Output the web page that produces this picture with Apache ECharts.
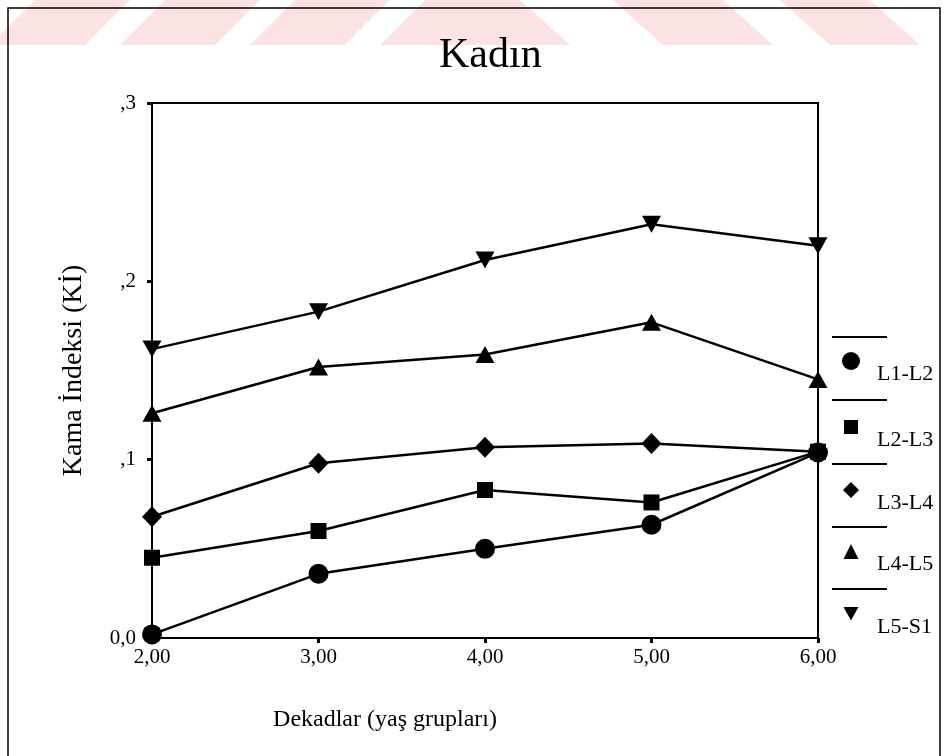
<!DOCTYPE html>
<html>
<head>
<meta charset="utf-8">
<script src="https://cdn.jsdelivr.net/npm/echarts@6/dist/echarts.min.js"></script>
<style>
html,body{margin:0;padding:0;background:#fff;}
#chart{width:947px;height:756px;}
</style>
</head>
<body>
<div id="chart"></div>
<script>
// ---- data ----
const decades = [2, 3, 4, 5, 6];
const seriesNames = ['L1-L2', 'L2-L3', 'L3-L4', 'L4-L5', 'L5-S1'];
const L1_L2 = [0.002, 0.036, 0.050, 0.0635, 0.104];
const L2_L3 = [0.045, 0.060, 0.083, 0.076, 0.1045];
const L3_L4 = [0.068, 0.098, 0.107, 0.109, 0.1045];
const L4_L5 = [0.126, 0.152, 0.159, 0.177, 0.145];
const L5_S1 = [0.162, 0.183, 0.212, 0.232, 0.220];
const yTicks = [0, 0.1, 0.2, 0.3];

const FONT = '"Liberation Serif", "DejaVu Serif", serif';
const values = [L1_L2, L2_L3, L3_L4, L4_L5, L5_S1];
const symbols = ['circle', 'rect', 'diamond', 'triangle', 'triangle'];
const symbolSizes = [20, 16, [20, 21], [19, 17], [19, 17]];
const rotates = [0, 0, 0, 0, 180];
const legendIcons = ['circle', 'rect', 'diamond', 'triangle', 'path://M0,0L10,0L5,9Z'];
const legendIconSizes = [18, 14, 16, 15, 15];
const legendIconCenters = [360, 428, 490, 552, 615];

const chart = echarts.init(document.getElementById('chart'), null, {renderer: 'canvas'});

const series = seriesNames.map((name, i) => ({
  name: name,
  type: 'line',
  data: decades.map((d, j) => [d, values[i][j]]),
  symbol: symbols[i],
  symbolSize: symbolSizes[i],
  symbolRotate: rotates[i],
  showAllSymbol: true,
  clip: false,
  z: i === 0 ? 5 : 3,
  color: '#000',
  lineStyle: {color: '#000', width: 2.5},
  itemStyle: {color: '#000'},
  emphasis: {disabled: true},
  animation: false
}));

// one legend block per entry so each sits under its own separator line
const legends = seriesNames.map((n, i) => {
  const s = legendIconSizes[i];
  return {
    orient: 'vertical',
    left: 851 - s / 2,
    top: legendIconCenters[i] - 8,
    padding: 0,
    itemWidth: s,
    itemHeight: s,
    selectedMode: false,
    data: [{name: n, icon: legendIcons[i]}],
    formatter: name => '{t|' + name + '}',
    textStyle: {
      fontFamily: FONT, fontSize: 22, color: '#000',
      rich: {t: {fontFamily: FONT, fontSize: 22, color: '#000',
        padding: [26, 0, 0, 21 - s / 2]}}
    }
  };
});

// watermark stripes (decorative)
const stripes = [];
[-10, 120, 250, 380].forEach(b => {
  stripes.push({type: 'polygon', z: -10, silent: true,
    shape: {points: [[b, 45], [b + 95, 45], [b + 140, 0], [b + 45, 0]]},
    style: {fill: '#fce3e3'}});
});
[[430, 520], [613, 723], [780, 870]].forEach(p => {
  stripes.push({type: 'polygon', z: -10, silent: true,
    shape: {points: [[p[0], 0], [p[1], 0], [p[1] + 50, 45], [p[0] + 50, 45]]},
    style: {fill: '#fce3e3'}});
});

const sepLines = [337, 400, 464, 527, 589].map(y => ({
  type: 'line', silent: true,
  shape: {x1: 832, y1: y, x2: 887, y2: y},
  style: {stroke: '#000', lineWidth: 2}
}));

const option = {
  backgroundColor: '#fff',
  animation: false,
  title: {
    text: 'Kadın',
    left: 434,
    top: 30,
    textStyle: {fontFamily: FONT, fontSize: 42, fontWeight: 'normal', color: '#000'}
  },
  grid: {
    left: 152, right: 129, top: 103, bottom: 118,
    show: true, borderColor: '#000', borderWidth: 2, backgroundColor: 'transparent'
  },
  legend: legends,
  xAxis: {
    type: 'value',
    min: 2, max: 6, interval: 1,
    name: 'Dekadlar (yaş grupları)',
    nameLocation: 'middle',
    nameGap: 70,
    nameTextStyle: {fontFamily: FONT, fontSize: 24, color: '#000', padding: [0, 200, 0, 0]},
    axisLine: {show: true, onZero: false, lineStyle: {color: '#000', width: 2}},
    axisTick: {show: true, inside: false, length: 5, lineStyle: {color: '#000', width: 3}},
    axisLabel: {fontFamily: FONT, fontSize: 21, color: '#000', margin: 9,
      formatter: v => v.toFixed(2).replace('.', ',')},
    splitLine: {show: false}
  },
  yAxis: {
    type: 'value',
    min: 0, max: 0.3, interval: 0.1,
    name: 'Kama İndeksi (Kİ)',
    nameLocation: 'middle',
    nameGap: 64,
    nameTextStyle: {fontFamily: FONT, fontSize: 28, color: '#000'},
    axisLine: {show: true, lineStyle: {color: '#000', width: 2}},
    axisTick: {show: true, inside: false, length: 5, lineStyle: {color: '#000', width: 3}},
    axisLabel: {fontFamily: FONT, fontSize: 21, color: '#000', margin: 16,
      formatter: v => {
        const t = yTicks.find(k => Math.abs(k - v) < 1e-9);
        const val = t === undefined ? v : t;
        return val === 0 ? '0,0' : ',' + Math.round(val * 10);
      }},
    splitLine: {show: false}
  },
  graphic: [
    ...stripes,
    {type: 'rect', silent: true, z: 0,
      shape: {x: 8, y: 8, width: 932, height: 770},
      style: {fill: 'none', stroke: '#000', lineWidth: 1.5}},
    ...sepLines
  ],
  series: series
};

chart.setOption(option);
</script>
</body>
</html>
